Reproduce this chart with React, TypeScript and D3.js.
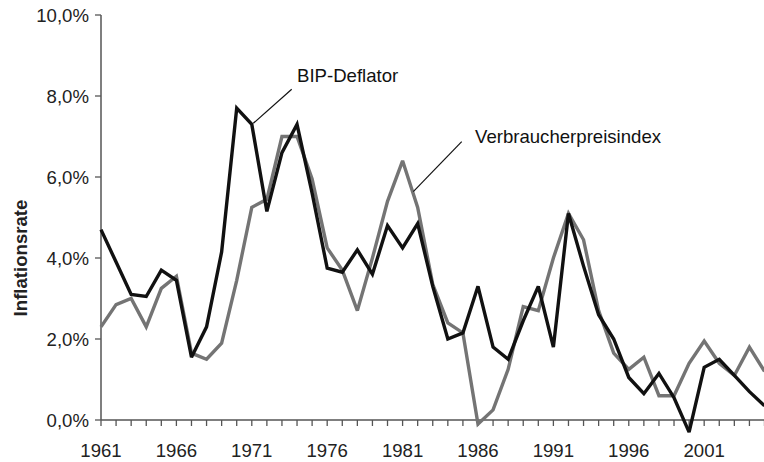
import React from "react";
import * as d3 from "d3";

const years: number[] = [
  1961, 1962, 1963, 1964, 1965, 1966, 1967, 1968, 1969, 1970,
  1971, 1972, 1973, 1974, 1975, 1976, 1977, 1978, 1979, 1980,
  1981, 1982, 1983, 1984, 1985, 1986, 1987, 1988, 1989, 1990,
  1991, 1992, 1993, 1994, 1995, 1996, 1997, 1998, 1999, 2000,
  2001, 2002, 2003, 2004, 2005,
];

const deflator: number[] = [
  4.7, 3.9, 3.1, 3.05, 3.7, 3.45, 1.55, 2.3, 4.15, 7.7,
  7.3, 5.15, 6.6, 7.3, 5.6, 3.75, 3.65, 4.2, 3.6, 4.8,
  4.25, 4.85, 3.3, 2.0, 2.15, 3.3, 1.8, 1.5, 2.45, 3.3,
  1.8, 5.1, 3.8, 2.6, 2.0, 1.05, 0.65, 1.15, 0.55, -0.3,
  1.3, 1.5, 1.1, 0.7, 0.35,
];

const cpi: number[] = [
  2.3, 2.85, 3.0, 2.3, 3.25, 3.55, 1.65, 1.5, 1.9, 3.45,
  5.25, 5.45, 7.0, 7.0, 5.95, 4.25, 3.7, 2.7, 4.0, 5.4,
  6.4, 5.25, 3.35, 2.4, 2.15, -0.1, 0.25, 1.25, 2.8, 2.7,
  4.0, 5.1, 4.45, 2.7, 1.65, 1.25, 1.55, 0.6, 0.6, 1.4,
  1.95, 1.4, 1.1, 1.8, 1.2,
];

const xTickLabels: number[] = [1961, 1966, 1971, 1976, 1981, 1986, 1991, 1996, 2001];
const yTicks: number[] = [0, 2, 4, 6, 8, 10];

const W = 764;
const H = 462;
const FONT = "'Liberation Sans', Arial, Helvetica, sans-serif";

export default function App() {
  const x = d3.scaleLinear().domain([1961, 2005]).range([101, 764.5]);
  const y = d3.scaleLinear().domain([0, 10]).range([420, 15]);

  const line = d3
    .line<number>()
    .x((_, i) => x(years[i]))
    .y((d) => y(d));

  const axisColor = "#555";
  const fmt = (v: number) => v.toFixed(1).replace(".", ",") + "%";

  return (
    <svg
      width={W}
      height={H}
      style={{ position: "absolute", left: 0, top: 0, display: "block", background: "#fff" }}
      fontFamily={FONT}
    >
      {/* axes */}
      <line x1={x(1961)} x2={W} y1={y(0)} y2={y(0)} stroke={axisColor} strokeWidth={1.5} />
      <line x1={x(1961)} x2={x(1961)} y1={y(10)} y2={y(0)} stroke={axisColor} strokeWidth={1.5} />
      {years.map((yr) => (
        <line
          key={"xt" + yr}
          x1={x(yr)}
          x2={x(yr)}
          y1={y(0)}
          y2={y(0) + 6}
          stroke={axisColor}
          strokeWidth={1.3}
        />
      ))}
      {yTicks.map((t) => (
        <g key={"yt" + t}>
          <line x1={x(1961) - 6} x2={x(1961)} y1={y(t)} y2={y(t)} stroke={axisColor} strokeWidth={1.3} />
          <text x={89} y={y(t)} dy="0.35em" textAnchor="end" fontSize={18.6} fill="#222">
            {fmt(t)}
          </text>
        </g>
      ))}
      {xTickLabels.map((yr) => (
        <text key={"xl" + yr} x={x(yr)} y={456.5} textAnchor="middle" fontSize={18.6} fill="#222">
          {yr}
        </text>
      ))}
      <text
        transform={`translate(27,${y(4)}) rotate(-90)`}
        textAnchor="middle"
        fontSize={18.6}
        fontWeight="bold"
        fill="#222"
      >
        Inflationsrate
      </text>

      {/* series */}
      <path d={line(cpi) || ""} fill="none" stroke="#747474" strokeWidth={3.4} strokeLinejoin="miter" strokeMiterlimit={3} />
      <path d={line(deflator) || ""} fill="none" stroke="#111" strokeWidth={3.4} strokeLinejoin="miter" strokeMiterlimit={3} />

      {/* annotations */}
      <line x1={253.3} y1={123.3} x2={291.7} y2={89.3} stroke="#111" strokeWidth={1.2} />
      <text x={297} y={82} fontSize={18.6} fill="#111">BIP-Deflator</text>
      <line x1={413.3} y1={191.7} x2={461.7} y2={141.7} stroke="#111" strokeWidth={1.2} />
      <text x={475} y={143.3} fontSize={18.6} fill="#111">Verbraucherpreisindex</text>
    </svg>
  );
}
